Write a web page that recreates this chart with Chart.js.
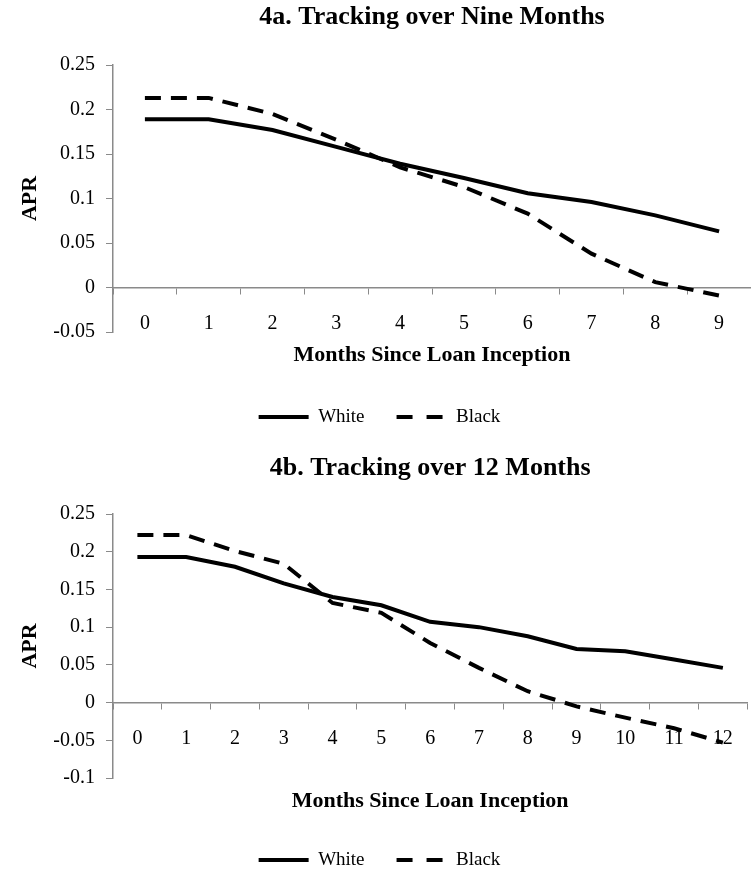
<!DOCTYPE html>
<html>
<head>
<meta charset="utf-8">
<script src="https://cdn.jsdelivr.net/npm/chart.js@4"></script>
<style>
  html, body { margin: 0; padding: 0; background: #fff; overflow: hidden; }
  .box { position: absolute; left: 0; width: 751px; height: 440px; }
  #boxA { top: 0; }
  #boxB { top: 440px; }
</style>
</head>
<body>
<div class="box" id="boxA"><canvas id="chartA" width="751" height="440"></canvas></div>
<div class="box" id="boxB"><canvas id="chartB" width="751" height="440"></canvas></div>
<script>
// data
const monthsA = ["0", "1", "2", "3", "4", "5", "6", "7", "8", "9"];
const whiteA = [0.189, 0.189, 0.177, 0.158, 0.139, 0.123, 0.106, 0.096, 0.081, 0.063];
const blackA = [0.213, 0.213, 0.195, 0.166, 0.135, 0.113, 0.083, 0.038, 0.006, -0.009];
const yTicksA = ["-0.05", "0", "0.05", "0.1", "0.15", "0.2", "0.25"];

const monthsB = ["0", "1", "2", "3", "4", "5", "6", "7", "8", "9", "10", "11", "12"];
const whiteB = [0.193, 0.193, 0.180, 0.158, 0.140, 0.129, 0.107, 0.100, 0.088, 0.071, 0.068, 0.057, 0.046];
const blackB = [0.222, 0.222, 0.201, 0.184, 0.132, 0.119, 0.079, 0.046, 0.015, -0.005, -0.020, -0.034, -0.053];
const yTicksB = ["-0.1", "-0.05", "0", "0.05", "0.1", "0.15", "0.2", "0.25"];

const axisGray = "#8a8a8a";
Chart.defaults.font.family = "'Liberation Serif', 'Times New Roman', serif";
Chart.defaults.color = "#000";

function makeChart(id, opts) {
  const ctx = document.getElementById(id).getContext("2d");
  return new Chart(ctx, {
    type: "line",
    data: {
      labels: opts.labels,
      datasets: [
        {
          label: "White",
          data: opts.white,
          borderColor: "#000",
          borderWidth: 4,
          pointRadius: 0,
          pointStyle: "line",
          tension: 0,
        },
        {
          label: "Black",
          data: opts.black,
          borderColor: "#000",
          borderWidth: 4,
          borderDash: [16, 10],
          pointRadius: 0,
          pointStyle: "line",
          tension: 0,
        },
      ],
    },
    options: {
      responsive: false,
      animation: false,
      layout: { padding: { left: 8, right: 0, top: 0, bottom: opts.padBottom } },
      plugins: {
        tooltip: { enabled: false },
        title: {
          display: true,
          text: opts.title,
          fullSize: false,
          font: { size: 26, weight: "bold" },
          padding: { top: opts.titleTop, bottom: opts.titleBottom },
        },
        subtitle: {
          display: true,
          position: "bottom",
          weight: 500,
          fullSize: false,
          text: "Months Since Loan Inception",
          font: { size: 22, weight: "bold" },
          padding: { top: opts.subTop, bottom: opts.subBottom },
        },
        legend: {
          position: "bottom",
          weight: 2000,
          labels: {
            font: { size: 19 },
            usePointStyle: true,
            pointStyleWidth: 50,
            padding: 32,
            generateLabels: function (chart) {
              const items = Chart.defaults.plugins.legend.labels.generateLabels(chart);
              items.forEach(function (it) {
                const ds = chart.data.datasets[it.datasetIndex];
                it.lineDash = ds.borderDash ? [16, 14] : [];
                it.lineWidth = 4;
              });
              return items;
            },
          },
        },
      },
      scales: {
        x: {
          position: { y: 0 },
          offset: true,
          grid: {
            offset: true,
            drawOnChartArea: false,
            color: axisGray,
            tickLength: 6,
          },
          border: { color: axisGray, width: 1.5 },
          ticks: { font: { size: 20 }, padding: 18, maxRotation: 0, autoSkip: false },
        },
        y: {
          min: opts.yMin,
          max: 0.25,
          afterFit: function (scale) {
            scale.width = 105;
          },
          grid: { drawOnChartArea: false, color: axisGray, tickLength: 7 },
          border: { color: axisGray, width: 1.5 },
          ticks: {
            stepSize: 0.05,
            font: { size: 20 },
            padding: 11,
            callback: function (value, index) {
              return opts.yTicks[index];
            },
          },
          title: {
            display: true,
            text: "APR",
            font: { size: 22, weight: "bold" },
            padding: { top: 9, bottom: 0 },
          },
        },
      },
    },
  });
}

makeChart("chartA", {
  labels: monthsA,
  white: whiteA,
  black: blackA,
  yTicks: yTicksA,
  yMin: -0.05,
  title: "4a. Tracking over Nine Months",
  titleTop: 2,
  titleBottom: 31.8,
  subTop: 10,
  subBottom: 7,
  padBottom: 3.6,
});

makeChart("chartB", {
  labels: monthsB,
  white: whiteB,
  black: blackB,
  yTicks: yTicksB,
  yMin: -0.1,
  title: "4b. Tracking over 12 Months",
  titleTop: 12.4,
  titleBottom: 30.4,
  subTop: 9.8,
  subBottom: 4.3,
  padBottom: 0.5,
});
</script>
</body>
</html>
